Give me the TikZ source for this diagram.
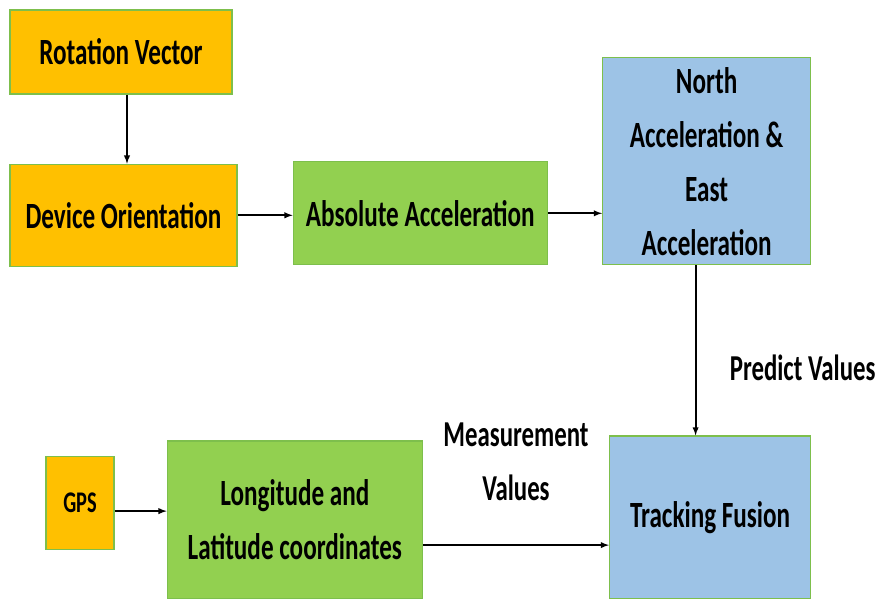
\documentclass[tikz,border=0pt]{standalone}
\usepackage{fontspec}
\setmainfont{Carlito}[FakeStretch=0.68]
\usepackage{xcolor}
\usepackage{tikz}
\usetikzlibrary{positioning,arrows}
\definecolor{sensororange}{HTML}{FFC000}
\definecolor{stepgreen}{HTML}{92D050}
\definecolor{fuseblue}{HTML}{9DC3E6}
\definecolor{edgegreen}{HTML}{7DBF4C}
\tikzset{
	box/.style={draw=edgegreen, line width=1.3pt, inner sep=0pt, align=center,
		font=\fontsize{37}{54}\selectfont\bfseries},
	sensor/.style={box, fill=sensororange},
	stage/.style={box, fill=stepgreen},
	result/.style={box, fill=fuseblue},
	flow/.style={->, >=latex, line width=1.8pt, draw=black},
	note/.style={align=center, font=\fontsize{36.5}{54}\selectfont\bfseries}
}
\begin{document}
\begin{tikzpicture}[x=1pt, y=1pt]
	\useasboundingbox (0,0) rectangle (879,-599);

	\node[sensor, minimum width=222pt, minimum height=84pt] (rv) at (121,-52) {Rotation Vector};
	\node[sensor, minimum width=227pt, minimum height=102pt, below=69pt of rv.south west, anchor=north west] (do) {Device Orientation};
	\node[stage, minimum width=254pt, minimum height=103pt, right=55pt of do.east, anchor=west, yshift=2pt] (aa) {Absolute Acceleration};
	\node[result, minimum width=208pt, minimum height=207pt, right=54pt of aa.south east, anchor=south west] (na) {North\\Acceleration \&\\East\\Acceleration};

	\node[result, minimum width=201pt, minimum height=163pt, below=170pt of na.south east, anchor=north east] (tf) {Tracking Fusion};
	\node[stage, minimum width=255pt, minimum height=158pt, left=186pt of tf.south west, anchor=south east] (lc) {Longitude and\\Latitude coordinates};
	\node[sensor, minimum width=68pt, minimum height=93pt, left=52pt of lc.west, anchor=east, yshift=17pt, font=\fontsize{30}{34}\selectfont\bfseries] (gps) {GPS};

	\draw[flow] (rv.south) ++(6pt,0) coordinate (rvout) -- (rvout |- do.north);
	\draw[flow] (do.east) -- (do.east -| aa.west);
	\draw[flow] (aa.east) -- (aa.east -| na.west);
	\draw[flow] ([xshift=-11pt]na.south) coordinate (naout) -- (naout |- tf.north)
		node[note, pos=0.6, anchor=west, xshift=30pt] {Predict Values};
	\draw[flow] (gps.east) ++(0,-8pt) coordinate (gpsout) -- (gpsout -| lc.west);
	\draw[flow] ([yshift=-25pt]lc.east) coordinate (lcout) -- (lcout -| tf.west)
		node[note, midway, above=40pt] {Measurement\\Values};
\end{tikzpicture}
\end{document}
